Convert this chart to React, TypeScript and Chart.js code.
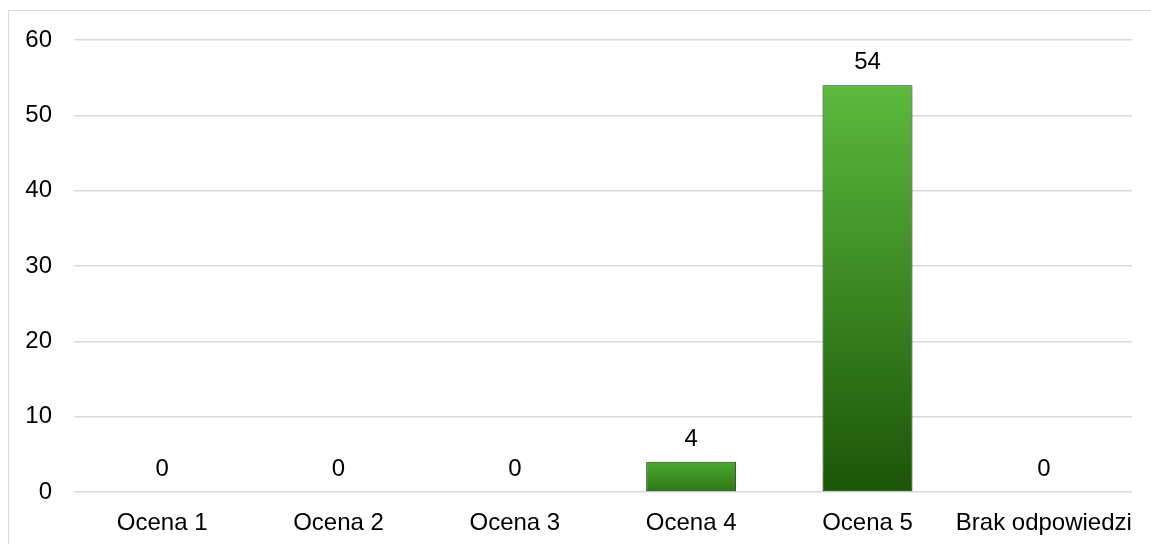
import React, { useEffect, useRef } from "react";
import { Chart, registerables } from "chart.js";

Chart.register(...registerables);

const categories = ["Ocena 1", "Ocena 2", "Ocena 3", "Ocena 4", "Ocena 5", "Brak odpowiedzi"];
const values = [0, 0, 0, 4, 54, 0];
const yMin = 0;
const yMax = 60;
const yStep = 10;

const FONT = "'Liberation Sans', Arial, sans-serif";

function mix(a: number[], b: number[], t: number) {
  const r = a.map((v, i) => Math.round(v + (b[i] - v) * t));
  return `rgb(${r[0]},${r[1]},${r[2]})`;
}

const frameBorder = {
  id: "frameBorder",
  beforeDraw(chart: any) {
    const c = chart.ctx;
    c.save();
    c.strokeStyle = "#d9d9d9";
    c.lineWidth = 1;
    c.strokeRect(8.5, 10.5, chart.width + 20, chart.height + 20);
    c.restore();
  },
};

const barShadow = {
  id: "barShadow",
  beforeDatasetDraw(chart: any) {
    const c = chart.ctx;
    c.save();
    c.shadowColor = "rgba(0,0,0,0.3)";
    c.shadowBlur = 4;
    c.shadowOffsetX = 0;
    c.shadowOffsetY = 1;
  },
  afterDatasetDraw(chart: any) {
    chart.ctx.restore();
  },
};

const valueLabels = {
  id: "valueLabels",
  afterDatasetsDraw(chart: any) {
    const c = chart.ctx;
    const meta = chart.getDatasetMeta(0);
    const data = chart.data.datasets[0].data;
    c.save();
    c.font = `24px ${FONT}`;
    c.fillStyle = "#000";
    c.textAlign = "center";
    c.textBaseline = "alphabetic";
    meta.data.forEach((el: any, i: number) => {
      c.fillText(String(data[i]), el.x, el.y - 16);
    });
    c.restore();
  },
};

export default function App() {
  const ref = useRef<HTMLCanvasElement | null>(null);

  useEffect(() => {
    if (!ref.current) return;
    const chart = new Chart(ref.current, {
      type: "bar",
      data: {
        labels: categories,
        datasets: [
          {
            data: values,
            backgroundColor: (ctx: any) => {
              const ch = ctx.chart;
              if (!ch.chartArea || ctx.type !== "data") return "#3b8a22";
              const v = ctx.dataset.data[ctx.dataIndex];
              const yTop = ch.scales.y.getPixelForValue(v);
              const yBase = ch.scales.y.getPixelForValue(0);
              const h = Math.abs(yBase - yTop);
              if (h < 0.5) return "rgba(0,0,0,0)";
              const t = Math.min(1, h / 400);
              const g = ch.ctx.createLinearGradient(0, yTop, 0, yBase);
              g.addColorStop(0, mix([74, 166, 46], [92, 186, 62], t));
              g.addColorStop(1, mix([46, 122, 24], [27, 85, 8], t));
              return g;
            },
            borderColor: "#1f4d0e",
            borderWidth: (ctx: any) => (ctx.type === "data" && ctx.dataset.data[ctx.dataIndex] === 0 ? 0 : 1),
            borderSkipped: false,
            categoryPercentage: 1,
            barPercentage: 0.51,
          },
        ],
      },
      options: {
        animation: false,
        responsive: false,
        maintainAspectRatio: false,
        events: [],
        layout: { padding: { left: 0, right: 19, top: 40, bottom: 0 } },
        plugins: {
          legend: { display: false },
          tooltip: { enabled: false },
          title: { display: false },
        },
        scales: {
          x: {
            grid: { display: false, drawTicks: false },
            border: { display: false },
            ticks: {
              color: "#000",
              font: { family: FONT, size: 24 },
              padding: 17,
              maxRotation: 0,
              autoSkip: false,
            },
            afterFit: (s: any) => {
              s.height = 52;
            },
          },
          y: {
            min: yMin,
            max: yMax,
            grid: { color: "#d9d9d9", lineWidth: 1.5, drawTicks: false },
            border: { display: false },
            ticks: {
              stepSize: yStep,
              color: "#000",
              font: { family: FONT, size: 24 },
              padding: 22,
            },
            afterFit: (s: any) => {
              s.width = 74;
            },
          },
        },
      },
      plugins: [frameBorder, barShadow, valueLabels],
    });
    return () => chart.destroy();
  }, []);

  return (
    <div style={{ position: "absolute", left: 0, top: 0, width: 1151, height: 544, overflow: "hidden", background: "#fff" }}>
      <canvas ref={ref} width={1151} height={544} style={{ display: "block", width: 1151, height: 544 }} />
    </div>
  );
}
